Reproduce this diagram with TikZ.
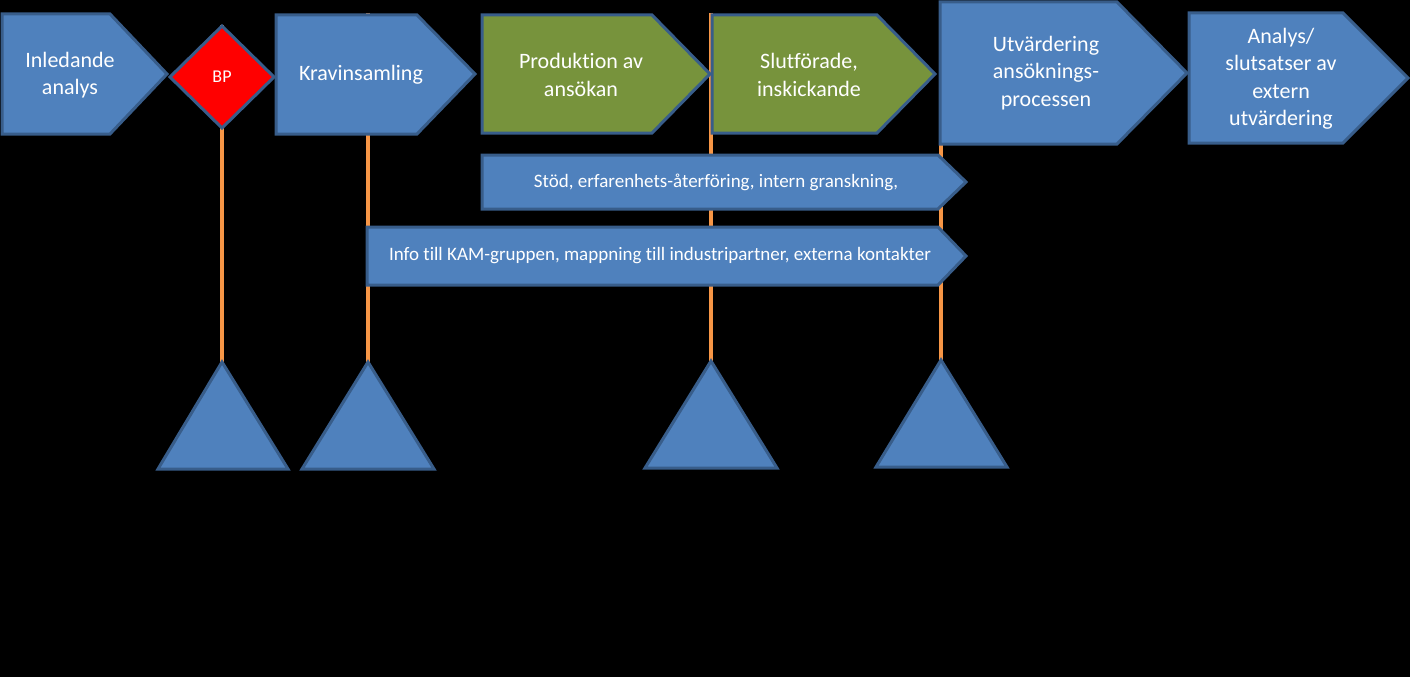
\documentclass[tikz,border=0pt]{standalone}
\usepackage{fontspec}
\setmainfont{Carlito}[Ligatures=NoCommon]
\begin{document}
\begin{tikzpicture}[x=1pt,y=-1pt,
  box/.style={fill=boxblue,draw=boxedge,line width=3pt,line join=miter},
  gbox/.style={box,fill=boxgreen},
  tri/.style={fill=boxblue,draw=boxedge,line width=3pt,line join=miter},
  pole/.style={draw=poleorange,line width=4pt},
  lbl/.style={text=white,align=center,inner sep=0pt,font=\fontsize{22}{27.5}\selectfont},
  barlbl/.style={text=white,inner sep=0pt,font=\fontsize{19}{22}\selectfont}]
\definecolor{boxblue}{HTML}{4F81BD}
\definecolor{boxedge}{HTML}{385D8A}
\definecolor{boxgreen}{HTML}{77933C}
\definecolor{poleorange}{HTML}{F79646}
\fill[black] (0,0) rectangle (1410,677);
\useasboundingbox (0,0) rectangle (1410,677);
% pole ends
\coordinate (p1top) at (222,25);
\coordinate (p2top) at (368,13);
\coordinate (p3top) at (711,13);
\coordinate (p4top) at (941,140);
\coordinate (t1) at (222,362);
\coordinate (t2) at (368,362);
\coordinate (t3) at (711,361);
\coordinate (t4) at (941,360);
\draw[pole] (p1top) -- (t1);
\draw[pole] (p2top) -- (t2);
\draw[pole] (p3top) -- (t3);
\draw[pole] (p4top) -- (t4);
% chevrons
\draw[box] (2,14) -- (110,14) -- (167,74) -- (110,134) -- (2,134) -- cycle;
\draw[box,fill=red] (222,26) -- (274,77) -- (222,128) -- (170,77) -- cycle;
\draw[box] (276,15) -- (417,15) -- (475,74) -- (417,134) -- (276,134) -- cycle;
\draw[gbox] (482,15) -- (652,15) -- (710,74) -- (652,133) -- (482,133) -- cycle;
\draw[gbox] (712,15) -- (877,15) -- (935,74) -- (877,133) -- (712,133) -- cycle;
\draw[box] (940,2) -- (1117,2) -- (1187,73) -- (1117,144) -- (940,144) -- cycle;
\draw[box] (1189,13) -- (1343,13) -- (1408,78) -- (1343,143) -- (1189,143) -- cycle;
% bars
\draw[box] (482,155) -- (938,155) -- (966,182) -- (938,209) -- (482,209) -- cycle;
\draw[box] (367,227) -- (938,227) -- (966,256) -- (938,285) -- (367,285) -- cycle;
% triangles
\draw[tri] (t1) -- (288,469) -- (158,469) -- cycle;
\draw[tri] (t2) -- (434,469) -- (302,469) -- cycle;
\draw[tri] (t3) -- (777,468) -- (645,468) -- cycle;
\draw[tri] (t4) -- (1007,467) -- (876,467) -- cycle;
% labels
\node[lbl] (n1) at (70,75) {Inledande\\analys};
\node[lbl,font=\fontsize{18}{20}\selectfont] (bp) at (222,77) {BP};
\node[lbl] (n2) at (361,75) {Kravinsamling};
\node[lbl] (n3) at (581,75) {Produktion av\\ansökan};
\node[lbl] (n4) at (809,75) {Slutförade,\\inskickande};
\node[lbl] (n5) at (1046,73) {Utvärdering\\ansöknings-\\processen};
\node[lbl] (n6) at (1281,79) {Analys/\\slutsatser av\\extern\\utvärdering};
\node[barlbl] (b1) at (716,182) {Stöd, erfarenhets-återföring, intern granskning,};
\node[barlbl] (b2) at (660,256) {Info till KAM-gruppen, mappning till industripartner, externa kontakter};
\end{tikzpicture}
\end{document}
